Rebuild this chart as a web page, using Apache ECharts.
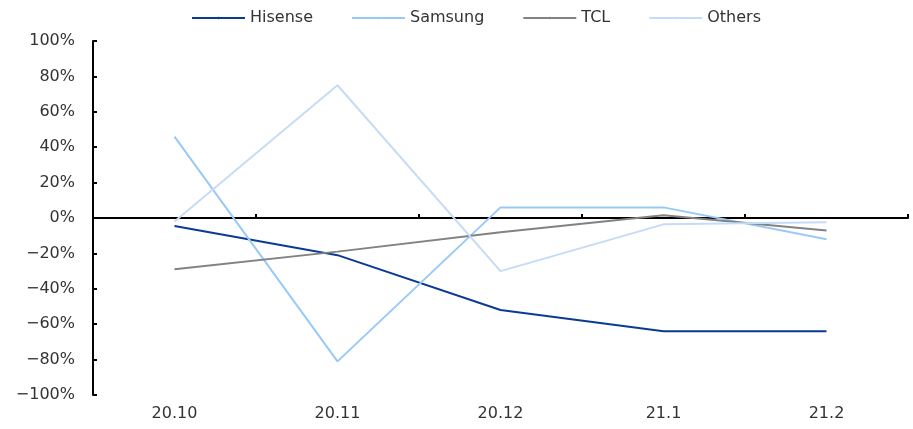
<!DOCTYPE html>
<html>
<head>
<meta charset="utf-8">
<script src="https://cdn.jsdelivr.net/npm/echarts@6/dist/echarts.min.js"></script>
<style>
  html, body { margin: 0; padding: 0; background: #fff; }
  #chart { width: 913px; height: 429px; }
</style>
</head>
<body>
<div id="chart"></div>
<script>
var categories = ['20.10', '20.11', '20.12', '21.1', '21.2'];
var hisense = [-4.5, -21, -52, -64, -64];
var samsung = [46, -81, 6, 6, -12];
var tcl = [-29, -19, -8, 1.5, -7];
var others = [-2, 75, -30, -3.6, -2.4];

var font = 'DejaVu Sans';
var chart = echarts.init(document.getElementById('chart'));

function line(name, data, color) {
  return {
    name: name,
    type: 'line',
    data: data,
    symbol: 'none',
    xAxisIndex: 0,
    lineStyle: { color: color, width: 2 },
    itemStyle: { color: color }
  };
}

chart.setOption({
  animation: false,
  legend: {
    top: 5,
    left: 186,
    itemWidth: 53,
    itemHeight: 3,
    itemGap: 38,
    textStyle: { fontFamily: font, fontSize: 16, color: '#333' },
    data: ['Hisense', 'Samsung', 'TCL', 'Others']
  },
  grid: { left: 93, right: 5, top: 41, bottom: 34, containLabel: false },
  xAxis: [{
    type: 'category',
    data: categories,
    axisLine: { onZero: true, lineStyle: { color: '#000', width: 2 } },
    axisTick: { show: true, inside: true, length: 4, lineStyle: { color: '#000', width: 2 } },
    axisLabel: { show: false },
    splitLine: { show: false }
  }, {
    type: 'category',
    data: categories,
    position: 'bottom',
    axisLine: { show: false, onZero: false },
    axisTick: { show: false },
    axisLabel: { margin: 11, fontFamily: font, fontSize: 16, color: '#333' },
    splitLine: { show: false }
  }],
  yAxis: {
    type: 'value',
    min: -100,
    max: 100,
    interval: 20,
    axisLine: { show: true, lineStyle: { color: '#000', width: 2 } },
    axisTick: { show: true, inside: true, length: 4, lineStyle: { color: '#000', width: 2 } },
    axisLabel: {
      margin: 18,
      fontFamily: font,
      fontSize: 16,
      color: '#333',
      formatter: function(v) { return (v < 0 ? '\u2212' + (-v) : v) + '%'; }
    },
    splitLine: { show: false }
  },
  series: [
    line('Hisense', hisense, '#0a3a94'),
    line('Samsung', samsung, '#99c9f7'),
    line('TCL', tcl, '#828282'),
    line('Others', others, '#c6dbf7')
  ]
});
</script>
</body>
</html>
